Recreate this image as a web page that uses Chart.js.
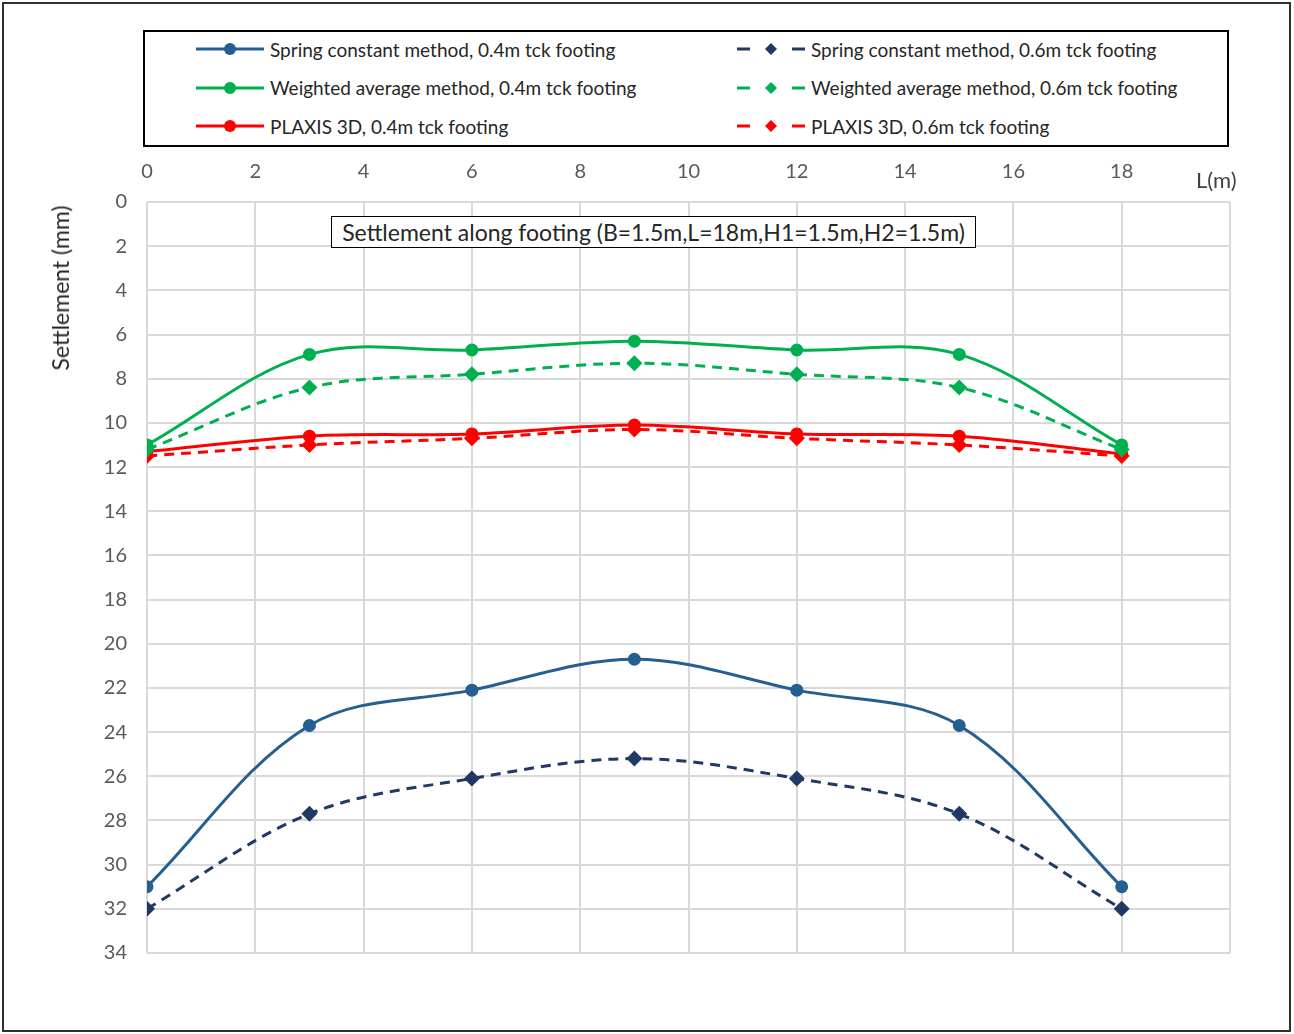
<!DOCTYPE html>
<html lang="en">
<head>
  <meta charset="UTF-8">
  <title>Settlement along footing</title>
  <script src="https://cdn.jsdelivr.net/npm/chart.js"></script>
  <style>
    body { margin: 0; background: #fff; font-family: Lato, "Open Sans", sans-serif; }
    .page { position: relative; width: 1294px; height: 1034px; overflow: hidden; }
    .frame { position: absolute; left: 2px; top: 2px; width: 1285px; height: 1026px; border: 2px solid #303030; }
    #wrap { position: absolute; left: 0; top: 0; width: 1294px; height: 1034px; }
    .legend { position: absolute; left: 143px; top: 30px; width: 1082px; height: 113px; border: 2px solid #000; background: #fff; }
    .legend .item { position: absolute; height: 22px; display: flex; align-items: center; font-size: 19px; color: #262626; white-space: nowrap; }
    .legend canvas { margin-right: 6px; }
    .title-box { position: absolute; left: 331px; top: 216px; width: 643px; height: 30px; border: 1.5px solid #000;
      background: #fff; font-size: 23px; color: #262626; text-align: center; line-height: 30px; white-space: nowrap; }
    .ytitle { position: absolute; left: 60px; top: 288px; transform: translate(-50%, -50%) rotate(-90deg);
      font-size: 23px; color: #262626; white-space: nowrap; }
    .xunit { position: absolute; left: 1196px; top: 166px; font-size: 22px; color: #404040; }
  </style>
</head>
<body>
  <div class="page">
    <div class="frame"></div>
    <div id="wrap"><canvas id="chart"></canvas></div>
    <div class="legend" id="legend"></div>
    <div class="title-box">Settlement along footing (B=1.5m,L=18m,H1=1.5m,H2=1.5m)</div>
    <div class="ytitle">Settlement (mm)</div>
    <div class="xunit">L(m)</div>
  </div>

  <script>
    // positions along the footing (m)
    const positions = [0, 3, 6, 9, 12, 15, 18];

    // settlement (mm)
    const springThin = [31.0, 23.7, 22.1, 20.7, 22.1, 23.7, 31.0];
    const springThick = [32.0, 27.7, 26.1, 25.2, 26.1, 27.7, 32.0];
    const weightedThin = [11.0, 6.9, 6.7, 6.3, 6.7, 6.9, 11.0];
    const weightedThick = [11.2, 8.4, 7.8, 7.3, 7.8, 8.4, 11.2];
    const plaxisThin = [11.3, 10.6, 10.5, 10.1, 10.5, 10.6, 11.4];
    const plaxisThick = [11.5, 11.0, 10.7, 10.3, 10.7, 11.0, 11.5];

    const xTicks = [0, 2, 4, 6, 8, 10, 12, 14, 16, 18];

    const toPoints = vals => vals.map((v, i) => ({ x: positions[i], y: v }));

    function series(label, vals, color, dashed) {
      return {
        label: label,
        data: toPoints(vals),
        borderColor: color,
        backgroundColor: color,
        borderWidth: 3,
        borderDash: dashed ? [10, 7] : [],
        pointStyle: dashed ? 'rectRot' : 'circle',
        pointRadius: dashed ? 8 : 6.5,
        pointBorderWidth: 0,
        tension: 0.35,
        fill: false,
        dashed: dashed
      };
    }

    const datasets = [
      series('Spring constant method, 0.4m tck footing', springThin, '#255e91', false),
      series('Spring constant method, 0.6m tck footing', springThick, '#1f3864', true),
      series('Weighted average method, 0.4m tck footing', weightedThin, '#00b050', false),
      series('Weighted average method, 0.6m tck footing', weightedThick, '#00b050', true),
      series('PLAXIS 3D, 0.4m tck footing', plaxisThin, '#ff0000', false),
      series('PLAXIS 3D, 0.6m tck footing', plaxisThick, '#ff0000', true)
    ];

    const tickFont = { family: 'Lato', size: 20 };

    const chart = new Chart(document.getElementById('chart'), {
      type: 'line',
      data: { datasets: datasets },
      options: {
        responsive: true,
        maintainAspectRatio: false,
        animation: false,
        layout: { padding: { left: 0, top: 150, right: 64, bottom: 81 } },
        plugins: { legend: { display: false }, tooltip: { enabled: false } },
        scales: {
          x: {
            type: 'linear',
            position: 'top',
            min: 0,
            max: 20,
            afterBuildTicks: axis => { axis.ticks = xTicks.concat([20]).map(v => ({ value: v })); },
            afterFit: axis => { axis.height = 52; },
            ticks: {
              callback: v => (v === 20 ? '' : v),
              font: tickFont,
              color: '#595959',
              padding: 18,
              maxRotation: 0
            },
            grid: { color: '#d9d9d9', lineWidth: 2, drawTicks: false },
            border: { display: false }
          },
          y: {
            reverse: true,
            min: 0,
            max: 34,
            afterFit: axis => { axis.width = 147; },
            ticks: { stepSize: 2, font: tickFont, color: '#595959', padding: 20 },
            grid: { color: '#d9d9d9', lineWidth: 2, drawTicks: false },
            border: { display: false }
          }
        }
      }
    });

    // legend built from the datasets, two columns
    const legend = document.getElementById('legend');
    chart.data.datasets.forEach((ds, i) => {
      const col = i % 2, row = Math.floor(i / 2);
      const item = document.createElement('div');
      item.className = 'item';
      item.style.left = (col === 0 ? 51 : 592) + 'px';
      item.style.top = (6 + row * 38.5) + 'px';
      const c = document.createElement('canvas');
      c.width = 68; c.height = 20;
      const g = c.getContext('2d');
      g.strokeStyle = ds.borderColor;
      g.fillStyle = ds.borderColor;
      g.lineWidth = 3;
      if (ds.dashed) {
        g.beginPath(); g.moveTo(0, 10); g.lineTo(13, 10); g.moveTo(55, 10); g.lineTo(68, 10); g.stroke();
        g.beginPath(); g.moveTo(34, 4); g.lineTo(40, 10); g.lineTo(34, 16); g.lineTo(28, 10); g.closePath(); g.fill();
      } else {
        g.beginPath(); g.moveTo(0, 10); g.lineTo(68, 10); g.stroke();
        g.beginPath(); g.arc(34, 10, 6, 0, Math.PI * 2); g.fill();
      }
      item.appendChild(c);
      const t = document.createElement('span');
      t.textContent = ds.label;
      item.appendChild(t);
      legend.appendChild(item);
    });
  </script>
</body>
</html>
